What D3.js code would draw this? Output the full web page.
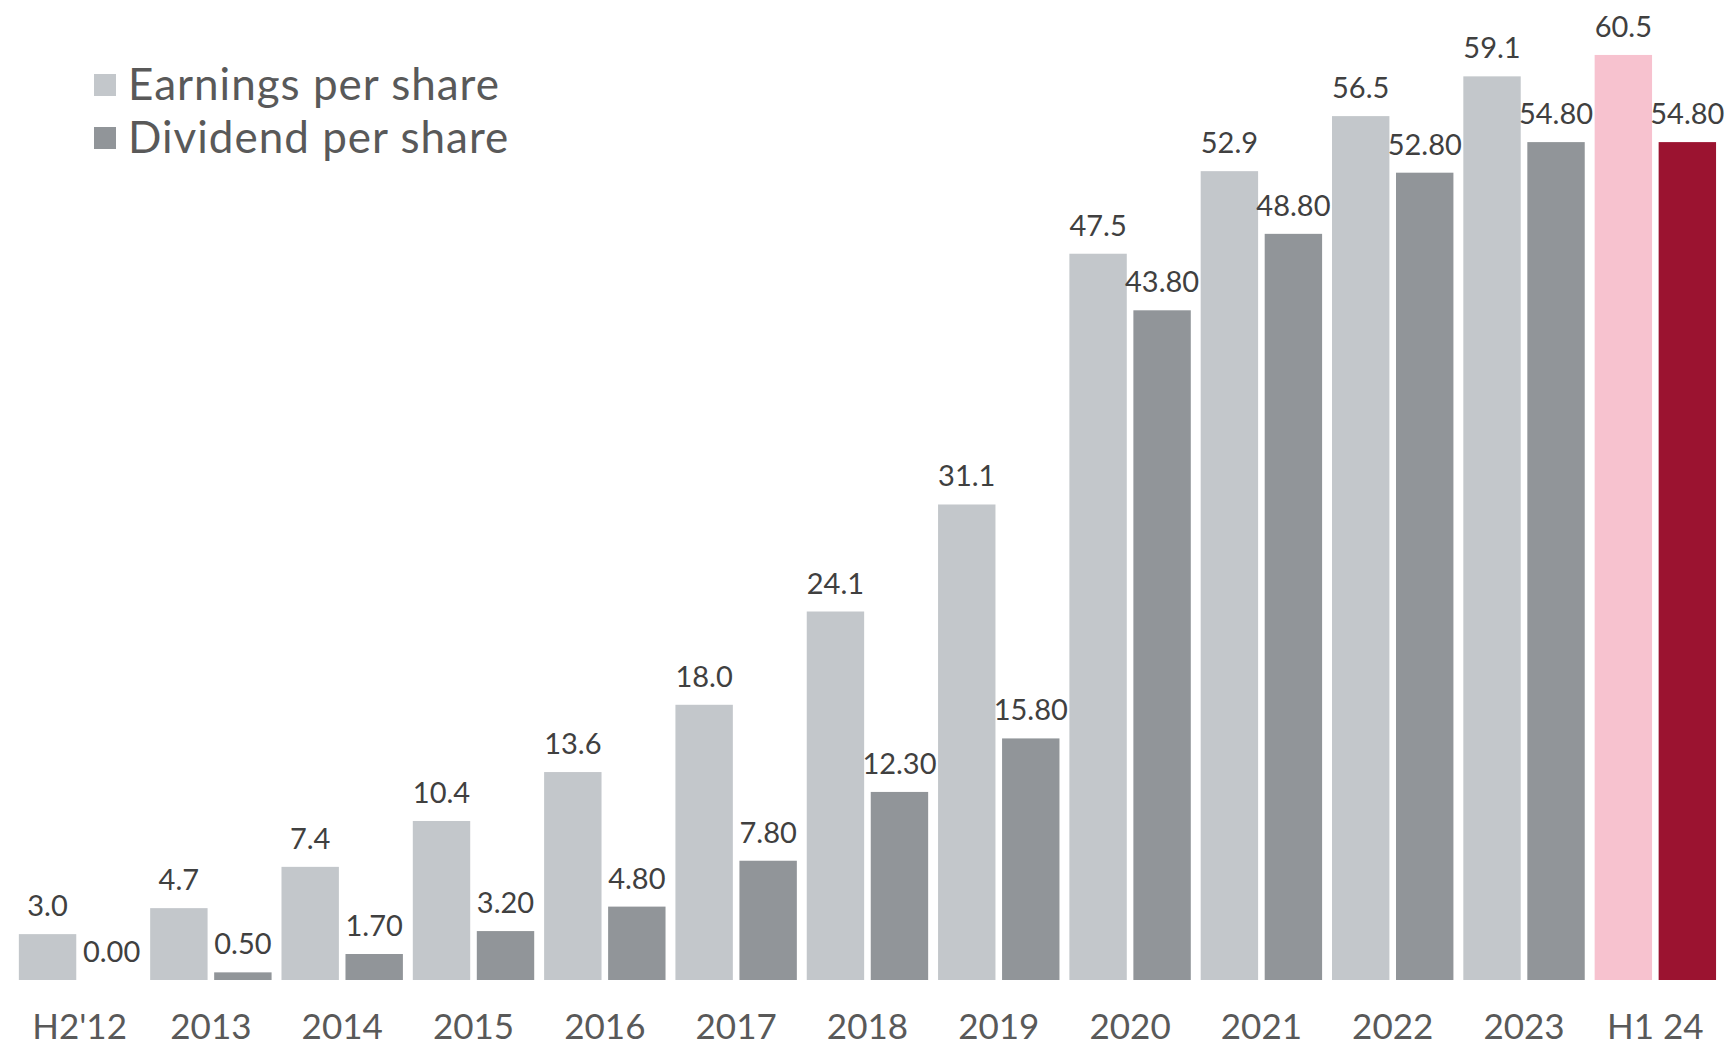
<!DOCTYPE html>
<html>
<head>
<meta charset="utf-8">
<script src="https://cdn.jsdelivr.net/npm/d3@7"></script>
<style>
  html, body { margin: 0; padding: 0; background: #ffffff; }
  svg { display: block; font-family: Lato, "Open Sans", sans-serif; }
</style>
</head>
<body>
<svg id="chart" width="1731" height="1047"></svg>
<script>
// Periods on the x axis
const categories = ["H2'12", "2013", "2014", "2015", "2016", "2017", "2018", "2019", "2020", "2021", "2022", "2023", "H1 24"];
// Earnings per share
const eps = [3.0, 4.7, 7.4, 10.4, 13.6, 18.0, 24.1, 31.1, 47.5, 52.9, 56.5, 59.1, 60.5];
// Dividend per share
const dps = [0.00, 0.50, 1.70, 3.20, 4.80, 7.80, 12.30, 15.80, 43.80, 48.80, 52.80, 54.80, 54.80];
const seriesNames = ["Earnings per share", "Dividend per share"];
const highlightCategory = "H1 24";

const colors = {
  eps: "#c3c7cb",
  dps: "#919599",
  epsHi: "#f7c2cf",
  dpsHi: "#9b1330"
};

const svg = d3.select("#chart");

const x0 = d3.scaleBand()
  .domain(categories)
  .range([13.9, 1721])
  .paddingInner(0.0754)
  .paddingOuter(0.0377);

const x1 = d3.scaleBand()
  .domain(["eps", "dps"])
  .range([0, x0.bandwidth()])
  .paddingInner(0.103)
  .paddingOuter(0);

const baseY = 980;
const y = d3.scaleLinear().domain([0, 64]).range([baseY, baseY - 64 * 15.29]);

const rows = categories.map((c, i) => ({ cat: c, eps: eps[i], dps: dps[i] }));

const groups = svg.append("g").selectAll("g")
  .data(rows)
  .join("g")
  .attr("transform", d => `translate(${x0(d.cat)},0)`);

const bars = groups.selectAll("g.bar")
  .data(d => ["eps", "dps"].map(k => ({ key: k, value: d[k], hi: d.cat === highlightCategory })))
  .join("g")
  .attr("class", "bar");

bars.append("rect")
  .attr("x", d => x1(d.key))
  .attr("width", x1.bandwidth())
  .attr("y", d => y(d.value))
  .attr("height", d => y(0) - y(d.value))
  .attr("fill", d => d.hi ? (d.key === "eps" ? colors.epsHi : colors.dpsHi) : colors[d.key]);

bars.append("text")
  .attr("x", d => x1(d.key) + x1.bandwidth() / 2)
  .attr("y", d => y(d.value) - 18)
  .attr("text-anchor", "middle")
  .attr("font-size", 29)
  .attr("fill", "#404040")
  .text(d => d.key === "eps" ? d3.format(".1f")(d.value) : d3.format(".2f")(d.value));

// Category axis (no line, no ticks)
const xAxis = d3.axisBottom(x0).tickSize(0).tickPadding(0);
const axisG = svg.append("g")
  .attr("transform", `translate(0,${baseY})`)
  .call(xAxis);
axisG.select(".domain").remove();
axisG.selectAll("text")
  .attr("dy", null)
  .attr("y", 59)
  .attr("font-family", "Lato, 'Open Sans', sans-serif")
  .attr("font-size", 35)
  .attr("fill", "#595959");

// Legend
const legend = svg.append("g").attr("transform", "translate(94,74)");
const legendItems = legend.selectAll("g")
  .data(seriesNames)
  .join("g")
  .attr("transform", (d, i) => `translate(0,${i * 53})`);
legendItems.append("rect")
  .attr("width", 22)
  .attr("height", 22)
  .attr("fill", (d, i) => i === 0 ? colors.eps : colors.dps);
legendItems.append("text")
  .attr("x", 34)
  .attr("y", 26)
  .attr("font-size", 44)
  .attr("letter-spacing", 1)
  .attr("fill", "#595959")
  .text(d => d);
</script>
</body>
</html>
